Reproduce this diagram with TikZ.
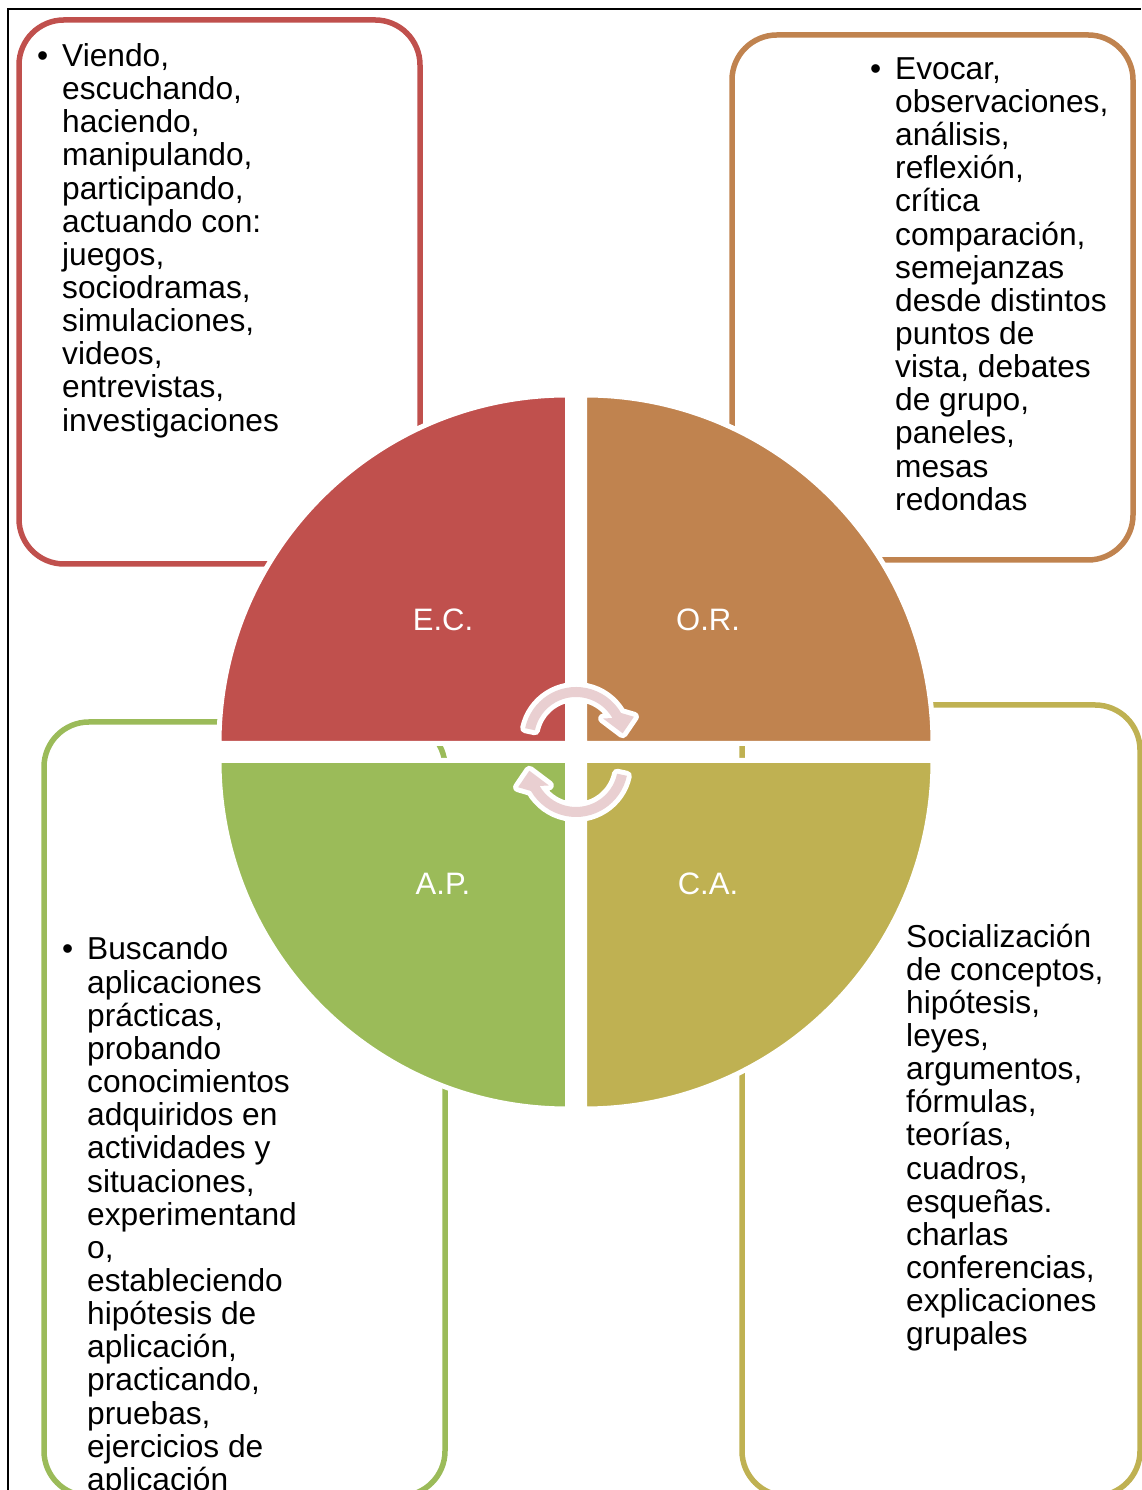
\documentclass[tikz,border=0pt]{standalone}
\usepackage{fontspec}
\setmainfont{Liberation Sans}
\usetikzlibrary{calc}

\definecolor{ecred}{RGB}{192,80,77}
\definecolor{ororange}{RGB}{192,131,79}
\definecolor{apgreen}{RGB}{155,187,89}
\definecolor{caolive}{RGB}{191,177,82}
\definecolor{cyclepink}{RGB}{233,207,209}

\begin{document}
\begin{tikzpicture}[
  x=1pt, y=1pt,
  box/.style={draw=#1, line width=5.5pt, rounded corners=45pt, fill=white},
  quad/.style={fill=#1, draw=white, line width=5pt},
  txt/.style={anchor=north west, inner sep=0pt, align=left, font=\fontsize{31.7}{33.15}\selectfont},
  lbl/.style={text=white, inner sep=0pt, font=\fontsize{31}{33}\selectfont},
  cyclearrow/.style={fill=cyclepink, preaction={draw=white, line width=10pt, line join=round}}
]
\useasboundingbox (0,0) rectangle (1141,1490);
% frame
\draw[line width=1.3pt] (8,0) |- (1141,1481);

% boxes behind the circle
\draw[box=ecred] (19,926) rectangle (420,1470);
\draw[box=ororange] (732,930) rectangle (1133,1455);
\draw[box=apgreen] (44,-6) rectangle (445,768);
\draw[box=caolive] (742,-6) rectangle (1140,785);

\node[txt] (ectext) at (62,1446.7) {\llap{\textbullet\hspace{14pt}}Viendo,\\escuchando,\\haciendo,\\manipulando,\\participando,\\actuando con:\\juegos,\\sociodramas,\\simulaciones,\\videos,\\entrevistas,\\investigaciones};
\node[txt] (ortext) at (895,1432.7) {\llap{\textbullet\hspace{14pt}}Evocar,\\observaciones,\\análisis,\\reflexión,\\crítica\\comparación,\\semejanzas\\desde distintos\\puntos de\\vista, debates\\de grupo,\\paneles,\\mesas\\redondas};
\node[txt] (aptext) at (87,553.2) {\llap{\textbullet\hspace{14pt}}Buscando\\aplicaciones\\prácticas,\\probando\\conocimientos\\adquiridos en\\actividades y\\situaciones,\\experimentand\\o,\\estableciendo\\hipótesis de\\aplicación,\\practicando,\\pruebas,\\ejercicios de\\aplicación};
\node[txt] (catext) at (906,566.5) {Socialización\\de conceptos,\\hipótesis,\\leyes,\\argumentos,\\fórmulas,\\teorías,\\cuadros,\\esqueñas.\\charlas\\conferencias,\\explicaciones\\grupales};

% circle of four quadrants
\coordinate (ctr) at (576,738);
\path[quad=ecred] ($(ctr)+(-8.5,8.5)$) -- ++(-348.5,0) arc[start angle=180, end angle=90, radius=348.5] -- cycle;
\path[quad=ororange] ($(ctr)+(8.5,8.5)$) -- ++(0,348.5) arc[start angle=90, end angle=0, radius=348.5] -- cycle;
\path[quad=apgreen] ($(ctr)+(-8.5,-8.5)$) -- ++(0,-348.5) arc[start angle=270, end angle=180, radius=348.5] -- cycle;
\path[quad=caolive] ($(ctr)+(8.5,-8.5)$) -- ++(348.5,0) arc[start angle=0, end angle=-90, radius=348.5] -- cycle;

\node[lbl] (ec) at (443,870) {E.C.};
\node[lbl] (or) at (708,870) {O.R.};
\node[lbl] (ap) at (443,606) {A.P.};
\node[lbl] (ca) at (708,606) {C.A.};

% cycle arrows
\coordinate (topc) at (576,751);
\coordinate (botc) at (576,725);
\path[cyclearrow] ($(topc)+(168:52)$) arc[start angle=168, end angle=30, radius=52]
  -- ($(topc)+(21:62)$) -- ($(topc)+(7:47)$) -- ($(topc)+(37:34)$)
  -- ($(topc)+(30:42)$) arc[start angle=30, end angle=168, radius=42] -- cycle;
\path[cyclearrow] ($(botc)+(348:52)$) arc[start angle=348, end angle=210, radius=52]
  -- ($(botc)+(201:62)$) -- ($(botc)+(187:47)$) -- ($(botc)+(217:34)$)
  -- ($(botc)+(210:42)$) arc[start angle=210, end angle=348, radius=42] -- cycle;
\end{tikzpicture}
\end{document}
